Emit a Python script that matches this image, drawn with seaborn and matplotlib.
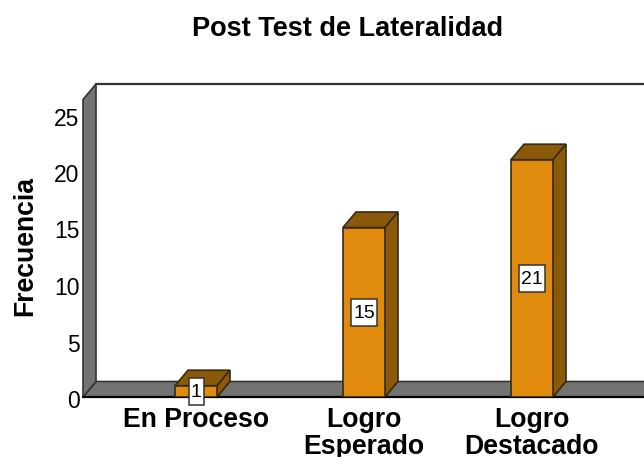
import matplotlib
matplotlib.use("Agg")
import matplotlib.pyplot as plt
from matplotlib.patches import Polygon, Rectangle
from matplotlib.transforms import ScaledTranslation
import pandas as pd
import seaborn as sns

categories = ["En Proceso", "Logro\nEsperado", "Logro\nDestacado"]
frequencies = [1, 15, 21]
y_ticks = [0, 5, 10, 15, 20, 25]

ORANGE = "#E08A0E"
BROWN = "#8A5A0A"
EDGE = "#3A2A10"
GRAY = "#737373"

W, H = 644, 457
L, R, B, T = 83, 644, 397, 84
PX_X, PX_Y = 168.0, 11.3
CX0 = 196
DEPTH_X, DEPTH_Y = 13.0 / PX_X, 15.5 / PX_Y

sns.set_theme(style="white")
plt.rcParams["font.family"] = ["Liberation Sans", "DejaVu Sans"]
fig = plt.figure(figsize=(W / 100, H / 100), dpi=100, facecolor="white")
ax = fig.add_axes([L / W, 1 - B / H, (R - L) / W, (B - T) / H])

df = pd.DataFrame({"cat": categories, "freq": frequencies})
sns.barplot(data=df, x="cat", y="freq", color=ORANGE, saturation=1, width=42 / PX_X,
            edgecolor=EDGE, linewidth=1.2, ax=ax, zorder=5)

x0 = (L - CX0) / PX_X
x1 = (R - CX0) / PX_X
y1 = (B - T) / PX_Y
ax.set_xlim(x0, x1)
ax.set_ylim(0, y1)

# walls and floor
wall = dict(facecolor=GRAY, edgecolor="#333333", linewidth=1.2, zorder=2, clip_on=False)
ax.add_patch(Polygon([(x0, 0), (x0 + DEPTH_X, DEPTH_Y), (x1 + 0.2, DEPTH_Y), (x1 + 0.2, 0)], **wall))
ax.add_patch(Polygon([(x0, 0), (x0 + DEPTH_X, DEPTH_Y), (x0 + DEPTH_X, y1), (x0, y1 - DEPTH_Y)], **wall))
ax.plot([x0 + DEPTH_X, x1], [y1, y1], color="#333333", lw=1.6, zorder=3, clip_on=False)
ax.plot([x0, x1], [0, 0], color="black", lw=1.6, zorder=4, clip_on=False)

# 3D sides of the bars and value labels
half = 21 / PX_X
text_up = ScaledTranslation(0, 1 / 100, fig.dpi_scale_trans)
for i, v in enumerate(frequencies):
    side = dict(facecolor=BROWN, edgecolor=EDGE, linewidth=1.2, zorder=4)
    ax.add_patch(Polygon([(i - half, v), (i - half + DEPTH_X, v + DEPTH_Y),
                          (i + half + DEPTH_X, v + DEPTH_Y), (i + half, v)], **side))
    ax.add_patch(Polygon([(i + half, 0), (i + half + DEPTH_X, DEPTH_Y),
                          (i + half + DEPTH_X, v + DEPTH_Y), (i + half, v)], **side))
    label = str(v)
    bw = (4 + 11 * len(label)) / PX_X
    bh = 27 / PX_Y
    ax.add_patch(Rectangle((i - bw / 2, v / 2 - bh / 2), bw, bh, facecolor="white",
                           edgecolor="#333333", linewidth=1.1, zorder=6, clip_on=False))
    ax.text(i, v / 2, label, ha="center", va="center_baseline", fontsize=14, color="black", zorder=7,
            transform=ax.transData + text_up)

for s in ax.spines.values():
    s.set_visible(False)
ax.patch.set_alpha(0)
ax.set_yticks(y_ticks)
ax.set_yticklabels([str(t) for t in y_ticks], fontsize=16.5, color="black")
ax.tick_params(axis="y", length=0, pad=2.5)
shift = ScaledTranslation(0, -2 / 100, fig.dpi_scale_trans)
for t in ax.get_yticklabels():
    t.set_transform(t.get_transform() + shift)
ax.set_xticks(range(len(categories)))
ax.set_xticklabels(categories, fontsize=19.2, fontweight="bold", color="black", linespacing=1.03)
ax.tick_params(axis="x", length=0, pad=7.5)
ax.set_xlabel("")
ax.set_ylabel("Frecuencia", fontsize=19.2, fontweight="bold", color="black")
ax.yaxis.set_label_coords((38.5 - L) / (R - L), (B - 246) / (B - T))
fig.text(348 / W, 1 - 29.5 / H, "Post Test de Lateralidad", ha="center", va="center",
         fontsize=19.5, fontweight="bold", color="black")

fig.savefig("out.png", dpi=100)
